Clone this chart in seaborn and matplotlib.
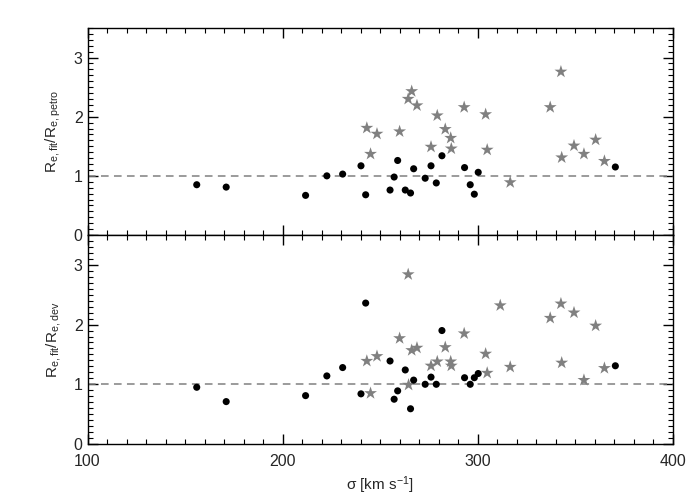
import numpy as np
import pandas as pd
import matplotlib
matplotlib.use("Agg")
import matplotlib.pyplot as plt
import seaborn as sns

# velocity dispersion of the black-circle sample (same in both panels)
sig_dot = [156.0, 171.1, 211.8, 222.7, 230.8, 240.2, 242.6, 255.1, 257.2, 259.0, 262.9,
           265.6, 267.2, 273.1, 276.1, 278.8, 281.7, 293.3, 296.2, 298.3, 300.3, 370.6]
petro_dot = [0.85, 0.81, 0.67, 1.00, 1.03, 1.17, 0.68, 0.76, 0.98, 1.26, 0.76,
             0.71, 1.12, 0.96, 1.17, 0.88, 1.34, 1.14, 0.85, 0.69, 1.06, 1.15]
dev_dot = [0.95, 0.71, 0.81, 1.14, 1.28, 0.84, 2.36, 1.39, 0.75, 0.89, 1.24,
           0.59, 1.07, 1.00, 1.12, 1.00, 1.90, 1.11, 1.00, 1.11, 1.18, 1.31]

# grey stars, upper panel
sig_star_p = [243.2, 248.4, 245.1, 260.0, 264.4, 266.2, 268.9, 276.1, 279.3, 283.4, 286.2, 286.5,
              293.1, 304.1, 304.9, 316.7, 337.2, 342.7, 343.1, 349.4, 354.5, 360.5, 365.0]
petro_star = [1.81, 1.71, 1.37, 1.75, 2.30, 2.43, 2.19, 1.49, 2.02, 1.79, 1.64, 1.46,
              2.16, 2.04, 1.44, 0.89, 2.16, 2.76, 1.31, 1.51, 1.37, 1.61, 1.25]

# grey stars, lower panel
sig_star_d = [243.2, 248.4, 245.1, 260.0, 264.4, 264.6, 266.2, 268.9, 276.1, 279.3, 283.4, 286.2,
              286.5, 293.1, 304.1, 304.9, 311.6, 316.7, 337.2, 342.7, 343.1, 349.4, 354.5, 360.5, 365.0]
dev_star = [1.39, 1.47, 0.85, 1.77, 2.84, 0.99, 1.57, 1.61, 1.31, 1.38, 1.62, 1.38,
            1.31, 1.85, 1.51, 1.19, 2.32, 1.29, 2.11, 2.35, 1.36, 2.20, 1.07, 1.98, 1.27]

sns.set_style("ticks")
plt.rcParams['font.family'] = ['Liberation Sans', 'DejaVu Sans']
plt.rcParams['mathtext.default'] = 'regular'

fig = plt.figure(figsize=(7, 5), dpi=100)
ax1 = fig.add_axes([0.125, 0.53, 0.836, 0.414])
ax2 = fig.add_axes([0.125, 0.112, 0.836, 0.418], sharex=ax1)

panels = [
    (ax1, sig_dot, petro_dot, sig_star_p, petro_star, r'$R_{e,fit}/R_{e,petro}$'),
    (ax2, sig_dot, dev_dot, sig_star_d, dev_star, r'$R_{e,fit}/R_{e,dev}$'),
]

for ax, xd, yd, xs, ys, lab in panels:
    ax.axhline(1.0, color='#808080', lw=1.1, ls=(0, (5, 3.5)), zorder=1)
    sns.scatterplot(x=xs, y=ys, ax=ax, marker='*', s=95, color='#808080',
                    edgecolor='none', linewidth=0, zorder=2)
    sns.scatterplot(x=xd, y=yd, ax=ax, marker='o', s=26, color='black',
                    edgecolor='none', linewidth=0, zorder=3)
    ax.set_xlim(100, 400)
    ax.set_ylim(0, 3.5)
    ax.set_yticks([0, 1, 2, 3])
    ax.set_xticks([100, 200, 300, 400])
    ax.set_yticks(np.arange(0, 3.51, 0.1), minor=True)
    ax.set_xticks(np.arange(100, 401, 10), minor=True)
    ax.tick_params(which='both', direction='in', top=True, right=True, labelsize=11.5, color='black')
    ax.tick_params(which='major', length=7, width=1)
    ax.tick_params(which='minor', length=3.5, width=0.8)
    ax.tick_params(axis='y', pad=3.5)
    ax.tick_params(axis='x', pad=7)
    for sp in ax.spines.values():
        sp.set_color('black')
        sp.set_linewidth(1)
    ax.set_ylabel(lab, fontsize=11, labelpad=8)

ax1.tick_params(labelbottom=False)
ax2.set_xlabel(r'$\sigma$ [km s$^{-1}$]', fontsize=11, labelpad=4)

fig.savefig("out.png", dpi=100)
